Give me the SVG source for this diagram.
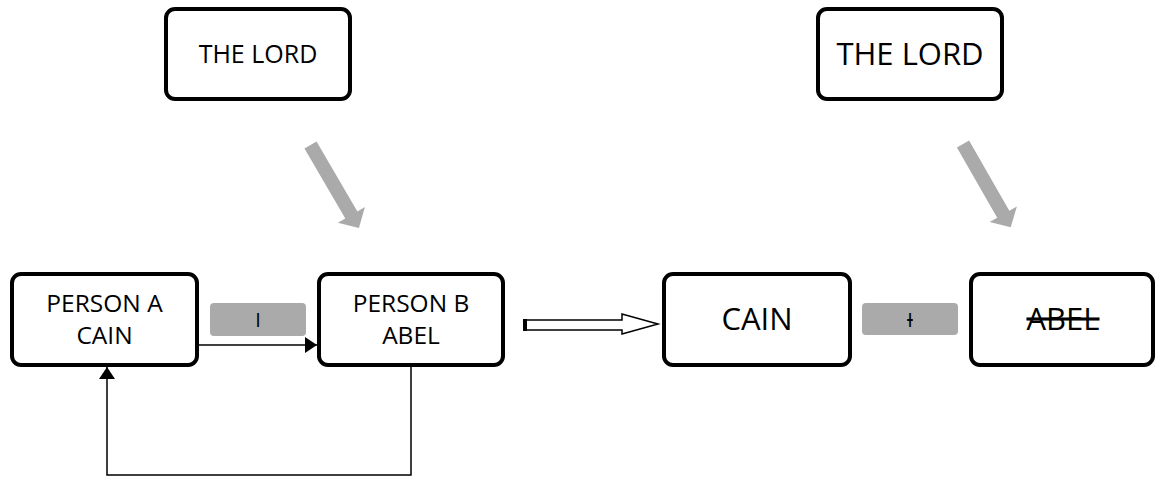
<svg xmlns="http://www.w3.org/2000/svg" width="1156" height="477" viewBox="0 0 1156 477">
<style>
.box{fill:#fff;stroke:#000;stroke-width:4}
.t{font-family:"Open Sans","Liberation Sans",sans-serif;fill:#000;text-anchor:middle}
.lbl{fill:#aaaaaa}
.ln{fill:none;stroke:#000;stroke-width:1.5}
.ga{fill:#aaaaaa}
</style>
<defs>
<marker id="ah" markerWidth="12" markerHeight="16" refX="12" refY="8" orient="auto" markerUnits="userSpaceOnUse">
<path d="M0,0 L12,8 L0,16 Z" fill="#000"/>
</marker>
<polygon id="garrow" points="0,-7 81,-7 81,-15.7 96,0 81,15.7 81,7 0,7"/>
</defs>
<rect width="1156" height="477" fill="#fff"/>

<g id="lord1">
<rect class="box" x="166" y="9" width="184" height="90" rx="9"/>
<text class="t" x="258" y="63" font-size="25">THE LORD</text>
</g>
<g id="lord2">
<rect class="box" x="818" y="9" width="184" height="90" rx="9"/>
<text class="t" x="910" y="65" font-size="31">THE LORD</text>
</g>
<g id="personA">
<rect class="box" x="12" y="274" width="185" height="91" rx="9"/>
<text class="t" x="104.5" y="312" font-size="24.5">PERSON A</text>
<text class="t" x="104.5" y="344" font-size="24.5">CAIN</text>
</g>
<g id="personB">
<rect class="box" x="319" y="274" width="184" height="91" rx="9"/>
<text class="t" x="411" y="312" font-size="24.5">PERSON B</text>
<text class="t" x="411" y="344" font-size="24.5">ABEL</text>
</g>
<g id="cain">
<rect class="box" x="664" y="274" width="186" height="91" rx="9"/>
<text class="t" x="757" y="330" font-size="31">CAIN</text>
</g>
<g id="abel">
<rect class="box" x="971" y="274" width="182" height="91" rx="9"/>
<text class="t" x="1063" y="330" font-size="31" text-decoration="line-through">ABEL</text>
</g>
<g id="label1">
<rect class="lbl" x="210" y="303" width="96" height="33" rx="4"/>
<text class="t" x="258" y="327" font-size="20">I</text>
</g>
<g id="label2">
<rect class="lbl" x="862" y="303" width="96" height="32" rx="4"/>
<text class="t" x="910" y="327" font-size="20" text-decoration="line-through">I</text>
</g>

<g id="connectors">
<use href="#garrow" class="ga" transform="translate(310.5,145) rotate(59.7)"/>
<use href="#garrow" class="ga" transform="translate(963,144) rotate(60.2)"/>
<line class="ln" x1="199" y1="345" x2="317" y2="345" marker-end="url(#ah)"/>
<polyline class="ln" points="411,367 411,475 107,475 107,367" marker-end="url(#ah)"/>
<polygon points="524,320 622,320 622,314 658,324 622,334 622,330 524,330" fill="#fff" stroke="#000" stroke-width="1.5"/>
<rect x="523" y="319" width="4" height="12" fill="#000"/>
</g>
</svg>
